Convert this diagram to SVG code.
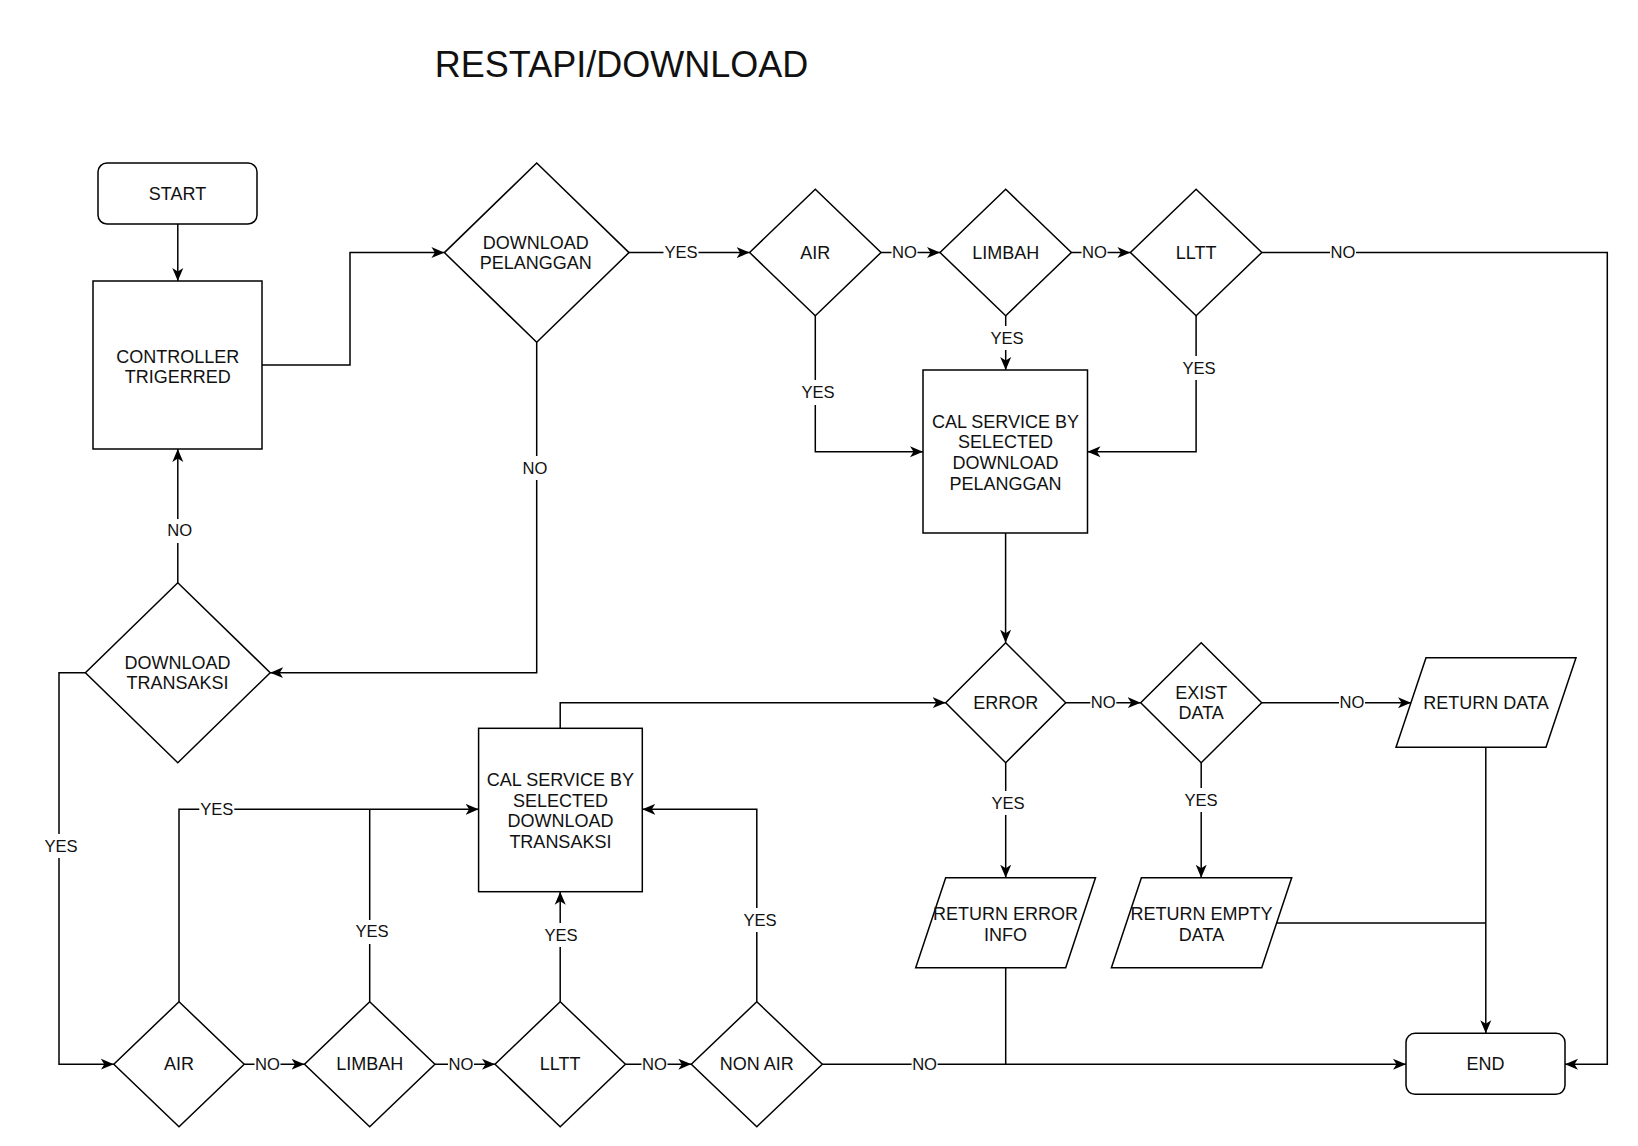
<svg xmlns="http://www.w3.org/2000/svg" width="1638" height="1146" viewBox="0 0 1638 1146">
<defs>
<style>
.n{fill:#fff;stroke:#000;stroke-width:1.5}
.t{font-family:"Liberation Sans",Arial,sans-serif;font-size:18px;text-anchor:middle;dominant-baseline:central;fill:#111}
.e{fill:none;stroke:#000;stroke-width:1.5}
.a{marker-end:url(#arr)}
.lb{fill:#fff}
.lt{font-family:"Liberation Sans",Arial,sans-serif;font-size:16.6px;text-anchor:middle;dominant-baseline:central;fill:#111}
</style>
<marker id="arr" viewBox="0 0 13 12" refX="13" refY="6" markerWidth="13" markerHeight="12" markerUnits="userSpaceOnUse" orient="auto"><path d="M0,0.5 L13,6 L0,11.5 L3.5,6 Z" fill="#000"/></marker>
</defs>
<rect width="1638" height="1146" fill="#fff"/>
<text x="621.5" y="64.8" style="font-family:'Liberation Sans',Arial,sans-serif;font-size:36px;text-anchor:middle;dominant-baseline:central;fill:#111">RESTAPI/DOWNLOAD</text>

<g id="connectors">
<path class="e a" d="M177.8,224 V281"/>
<path class="e a" d="M262,365 H350 V252.6 H444.4"/>
<path class="e a" d="M629,252.6 H749.6"/>
<path class="e a" d="M881,252.6 H940"/>
<path class="e a" d="M1071.4,252.6 H1130.4"/>
<path class="e a" d="M1261.8,252.6 H1607.3 V1064.2 H1565"/>
<path class="e a" d="M815.3,315.7 V451.7 H923"/>
<path class="e a" d="M1005.7,315.7 V370"/>
<path class="e a" d="M1196.1,315.7 V451.7 H1087.5"/>
<path class="e a" d="M536.7,342.3 V672.7 H270.2"/>
<path class="e a" d="M177.8,582.7 V449"/>
<path class="e a" d="M85.4,672.7 H59 V1064.2 H113.8"/>
<path class="e a" d="M244.2,1064.2 H304.5"/>
<path class="e a" d="M434.9,1064.2 H495"/>
<path class="e a" d="M625.4,1064.2 H691.3"/>
<path class="e a" d="M822.3,1064.2 H1406"/>
<path class="e a" d="M179,1001.7 V809.3 H478.6"/>
<path class="e" d="M369.7,1001.7 V809.3"/>
<path class="e a" d="M560.2,1001.7 V891.7"/>
<path class="e a" d="M756.8,1001.7 V809.3 H642.3"/>
<path class="e a" d="M1005.6,533 V642.7"/>
<path class="e a" d="M560.2,728.3 V702.7 H945.7"/>
<path class="e a" d="M1065.7,702.7 H1140.7"/>
<path class="e a" d="M1261.7,702.7 H1411"/>
<path class="e a" d="M1005.7,762.7 V877.7"/>
<path class="e a" d="M1201.2,762.7 V877.7"/>
<path class="e a" d="M1485.8,747.3 V1033.3"/>
<path class="e" d="M1276.7,923 H1485.8"/>
<path class="e" d="M1005.7,967.7 V1064.2"/>

<rect class="lb" x="663.5" y="243" width="35" height="19"/><text class="lt" x="681" y="252.6">YES</text>
<rect class="lb" x="891.5" y="243" width="26" height="19"/><text class="lt" x="904.5" y="252.6">NO</text>
<rect class="lb" x="1081.5" y="243" width="26" height="19"/><text class="lt" x="1094.5" y="252.6">NO</text>
<rect class="lb" x="1330" y="243" width="26" height="19"/><text class="lt" x="1343" y="252.6">NO</text>
<rect class="lb" x="800.5" y="380" width="35" height="25"/><text class="lt" x="818" y="392.8">YES</text>
<rect class="lb" x="989.5" y="326" width="35" height="24"/><text class="lt" x="1007" y="338">YES</text>
<rect class="lb" x="1181.5" y="356" width="35" height="24"/><text class="lt" x="1199" y="368">YES</text>
<rect class="lb" x="522" y="456" width="26" height="24"/><text class="lt" x="535" y="468">NO</text>
<rect class="lb" x="166.7" y="519" width="26" height="24"/><text class="lt" x="179.7" y="530.7">NO</text>
<rect class="lb" x="43.5" y="834" width="35" height="24"/><text class="lt" x="61" y="846">YES</text>
<rect class="lb" x="254.5" y="1055" width="26" height="19"/><text class="lt" x="267.5" y="1064.2">NO</text>
<rect class="lb" x="448" y="1055" width="26" height="19"/><text class="lt" x="461" y="1064.2">NO</text>
<rect class="lb" x="641.5" y="1055" width="26" height="19"/><text class="lt" x="654.5" y="1064.2">NO</text>
<rect class="lb" x="911.6" y="1055" width="26" height="19"/><text class="lt" x="924.6" y="1064.2">NO</text>
<rect class="lb" x="199.3" y="800" width="35" height="19"/><text class="lt" x="216.8" y="809.3">YES</text>
<rect class="lb" x="354.5" y="920" width="35" height="24"/><text class="lt" x="372" y="931.8">YES</text>
<rect class="lb" x="543.5" y="923" width="35" height="24"/><text class="lt" x="561" y="935">YES</text>
<rect class="lb" x="742.5" y="908" width="35" height="24"/><text class="lt" x="760" y="920">YES</text>
<rect class="lb" x="1090.3" y="693" width="26" height="19"/><text class="lt" x="1103.3" y="702.7">NO</text>
<rect class="lb" x="1339" y="693" width="26" height="19"/><text class="lt" x="1352" y="702.7">NO</text>
<rect class="lb" x="990.5" y="791" width="35" height="24"/><text class="lt" x="1008" y="803.3">YES</text>
<rect class="lb" x="1183.5" y="788" width="35" height="24"/><text class="lt" x="1201" y="800">YES</text>
</g>

<g id="start"><rect class="n" x="98" y="163" width="159" height="61" rx="9"/><text class="t" x="177.5" y="193.5">START</text></g>
<g id="controller"><rect class="n" x="93" y="281" width="169" height="168"/><text class="t" x="177.7" y="356.7">CONTROLLER</text><text class="t" x="177.7" y="376.9">TRIGERRED</text></g>
<g id="download-pelanggan"><polygon class="n" points="536.7,163 629,252.6 536.7,342.3 444.4,252.6"/><text class="t" x="535.8" y="242.6">DOWNLOAD</text><text class="t" x="535.8" y="263.2">PELANGGAN</text></g>
<g id="air-top"><polygon class="n" points="815.3,189.3 881,252.5 815.3,315.7 749.6,252.5"/><text class="t" x="815.3" y="252.7">AIR</text></g>
<g id="limbah-top"><polygon class="n" points="1005.7,189.3 1071.4,252.5 1005.7,315.7 940,252.5"/><text class="t" x="1005.7" y="252.7">LIMBAH</text></g>
<g id="lltt-top"><polygon class="n" points="1196.1,189.3 1261.8,252.5 1196.1,315.7 1130.4,252.5"/><text class="t" x="1196.1" y="252.7">LLTT</text></g>
<g id="cal-pelanggan"><rect class="n" x="923" y="370" width="164.5" height="163"/><text class="t" x="1005.5" y="421.7">CAL SERVICE BY</text><text class="t" x="1005.5" y="442.4">SELECTED</text><text class="t" x="1005.5" y="463.1">DOWNLOAD</text><text class="t" x="1005.5" y="483.8">PELANGGAN</text></g>
<g id="download-transaksi"><polygon class="n" points="177.8,582.7 270.2,672.7 177.8,762.7 85.4,672.7"/><text class="t" x="177.6" y="662.6">DOWNLOAD</text><text class="t" x="177.6" y="682.8">TRANSAKSI</text></g>
<g id="cal-transaksi"><rect class="n" x="478.6" y="728.3" width="163.7" height="163.4"/><text class="t" x="560.4" y="779.9">CAL SERVICE BY</text><text class="t" x="560.4" y="800.6">SELECTED</text><text class="t" x="560.4" y="821.3">DOWNLOAD</text><text class="t" x="560.4" y="842">TRANSAKSI</text></g>
<g id="error"><polygon class="n" points="1005.7,642.7 1065.7,702.7 1005.7,762.7 945.7,702.7"/><text class="t" x="1005.7" y="702.9">ERROR</text></g>
<g id="exist-data"><polygon class="n" points="1201.2,642.7 1261.7,702.7 1201.2,762.7 1140.7,702.7"/><text class="t" x="1201.2" y="692.6">EXIST</text><text class="t" x="1201.2" y="713.3">DATA</text></g>
<g id="return-data"><polygon class="n" points="1426,657.7 1576,657.7 1546,747.3 1396,747.3"/><text class="t" x="1486" y="703">RETURN DATA</text></g>
<g id="return-error"><polygon class="n" points="945.7,877.7 1095.5,877.7 1065.7,967.7 915.7,967.7"/><text class="t" x="1005.6" y="914">RETURN ERROR</text><text class="t" x="1005.6" y="934.5">INFO</text></g>
<g id="return-empty"><polygon class="n" points="1141.4,877.7 1291.7,877.7 1261.7,967.7 1111.4,967.7"/><text class="t" x="1201.5" y="914">RETURN EMPTY</text><text class="t" x="1201.5" y="934.5">DATA</text></g>
<g id="air-bottom"><polygon class="n" points="179,1001.7 244.2,1064.2 179,1126.7 113.8,1064.2"/><text class="t" x="179" y="1064.4">AIR</text></g>
<g id="limbah-bottom"><polygon class="n" points="369.7,1001.7 434.9,1064.2 369.7,1126.7 304.5,1064.2"/><text class="t" x="369.7" y="1064.4">LIMBAH</text></g>
<g id="lltt-bottom"><polygon class="n" points="560.2,1001.7 625.4,1064.2 560.2,1126.7 495,1064.2"/><text class="t" x="560.2" y="1064.4">LLTT</text></g>
<g id="non-air"><polygon class="n" points="756.8,1001.7 822.3,1064.2 756.8,1126.7 691.3,1064.2"/><text class="t" x="756.8" y="1064.4">NON AIR</text></g>
<g id="end"><rect class="n" x="1406" y="1033.3" width="159" height="61" rx="9"/><text class="t" x="1485.5" y="1063.8">END</text></g>
</svg>
